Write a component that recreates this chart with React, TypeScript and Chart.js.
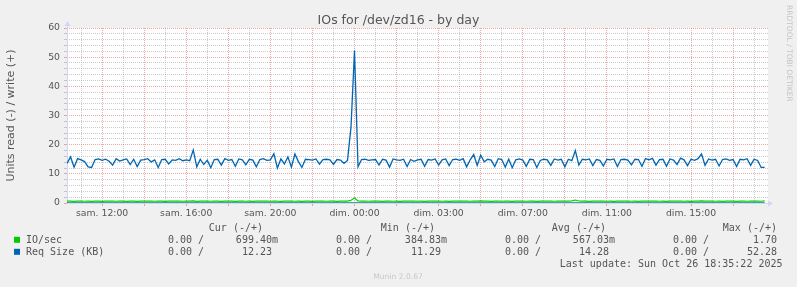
import React, { useEffect, useRef } from 'react';
import { Chart, registerables } from 'chart.js';

Chart.register(...registerables);

// Hours are counted in real elapsed time from "sam. 10:00" (DST ends on the Sunday at 03:00).
const FIRST_SAMPLE_H = 20 / 60; // first sample at sam. 10:20
const STEP_H = 10 / 60; // 10 minute samples
const X_MIN = 0.33;
const X_MAX = 33.66;

const gridHours = [1, 2, 3, 4, 5, 6, 7, 8, 9, 10, 11, 12, 13, 14, 15, 16, 17, 18, 19, 20, 21, 22, 23, 24, 25, 26, 27, 28, 29, 30, 31, 32, 33];
const tickHours = [2, 6, 10, 14, 18, 22, 26, 30];
const tickLabels = ['sam. 12:00', 'sam. 16:00', 'sam. 20:00', 'dim. 00:00', 'dim. 03:00', 'dim. 07:00', 'dim. 11:00', 'dim. 15:00'];
const yGridValues = [0, 2, 4, 6, 8, 10, 12, 14, 16, 18, 20, 22, 24, 26, 28, 30, 32, 34, 36, 38, 40, 42, 44, 46, 48, 50, 52, 54, 56, 58, 60];

// Req Size (KB), write (+)
const reqSizeWrite = [
  13.6, 15.8, 12.3, 15.2,
  14.8, 14.2, 12.4, 12.2, 14.9, 15.1,
  14.6, 15.0, 14.3, 13.0, 15.2, 14.4,
  14.8, 15.1, 13.2, 15.0, 12.5, 14.7,
  14.9, 15.2, 14.1, 14.8, 12.2, 14.9,
  15.0, 13.4, 14.8, 14.6, 15.2, 14.5,
  14.8, 14.5, 18.2, 12.4, 15.0, 13.2,
  14.7, 12.1, 14.9, 15.0, 13.0, 15.2,
  14.6, 14.9, 12.6, 15.1, 14.8, 13.1,
  15.0, 14.7, 12.4, 14.9, 15.2, 14.6,
  14.8, 16.9, 12.0, 15.1, 13.4, 15.8,
  12.3, 16.8, 14.2, 12.2, 15.0, 14.9,
  14.7, 15.1, 13.3, 14.9, 15.0, 14.8,
  13.2, 14.9, 14.7, 13.6, 14.6, 26.0,
  52.28, 12.4, 14.9, 15.0, 14.6, 14.8,
  14.9, 13.0, 15.0, 14.7, 12.3, 15.1,
  14.8, 14.6, 15.0, 12.5, 14.9, 14.3,
  14.8, 15.0, 12.6, 14.9, 14.7, 15.1,
  13.0, 14.8, 15.1, 12.8, 14.9, 15.0,
  14.6, 15.2, 12.4, 14.8, 16.6, 12.9,
  16.4, 14.1, 15.0, 14.7, 12.5, 15.2,
  14.9, 12.3, 15.0, 12.1, 14.8, 15.1,
  14.7, 12.6, 15.0, 14.9, 12.2, 14.6,
  15.0, 14.8, 12.9, 15.1, 14.7, 15.0,
  12.4, 15.0, 14.5, 18.0, 13.0, 15.0,
  14.8, 15.1, 12.8, 14.9, 14.6, 12.7,
  15.0, 14.8, 15.1, 12.5, 14.9, 15.0,
  14.7, 13.1, 15.0, 14.9, 12.6, 15.2,
  14.8, 15.3, 13.0, 14.9, 15.0, 12.6,
  15.1, 14.7, 13.2, 15.4, 14.8, 12.8,
  15.0, 14.6, 15.2, 16.8, 12.9, 15.1,
  14.7, 15.0, 12.7, 14.9, 15.1, 14.6,
  14.9, 12.5, 15.0, 14.8, 15.2, 12.9,
  15.0, 14.6, 12.2, 12.23,
];

// IO/sec, write (+)
const ioWrite = [
  0.62, 0.66, 0.58, 0.64,
  0.63, 0.60, 0.66, 0.59, 0.64, 0.62,
  0.58, 0.65, 0.61, 0.67, 0.60, 0.63,
  0.66, 0.59, 0.62, 0.64, 0.57, 0.65,
  0.61, 0.63, 0.68, 0.60, 0.62, 0.66,
  0.59, 0.64, 0.61, 0.63, 0.67, 0.60,
  0.62, 0.65, 0.72, 0.58, 0.63, 0.61,
  0.64, 0.60, 0.62, 0.66, 0.59, 0.63,
  0.61, 0.65, 0.58, 0.62, 0.64, 0.60,
  0.63, 0.59, 0.66, 0.61, 0.62, 0.65,
  0.60, 0.68, 0.62, 0.59, 0.64, 0.61,
  0.66, 0.60, 0.63, 0.58, 0.62, 0.64,
  0.59, 0.63, 0.61, 0.65, 0.60, 0.62,
  0.64, 0.58, 0.62, 0.61, 0.63, 0.95,
  1.70, 0.71, 0.62, 0.64, 0.60, 0.63,
  0.61, 0.65, 0.59, 0.63, 0.66, 0.60,
  0.62, 0.58, 0.64, 0.61, 0.63, 0.65,
  0.60, 0.63, 0.59, 0.66, 0.62, 0.61,
  0.64, 0.60, 0.62, 0.58, 0.65, 0.63,
  0.61, 0.63, 0.66, 0.60, 0.68, 0.62,
  0.70, 0.61, 0.63, 0.59, 0.64, 0.62,
  0.60, 0.65, 0.62, 0.58, 0.63, 0.61,
  0.64, 0.60, 0.62, 0.65, 0.59, 0.63,
  0.61, 0.63, 0.66, 0.60, 0.62, 0.64,
  0.62, 0.66, 0.75, 1.02, 0.68, 0.61,
  0.63, 0.59, 0.64, 0.61, 0.62, 0.66,
  0.60, 0.63, 0.58, 0.65, 0.62, 0.61,
  0.64, 0.60, 0.63, 0.59, 0.66, 0.62,
  0.61, 0.65, 0.62, 0.60, 0.63, 0.58,
  0.64, 0.61, 0.63, 0.66, 0.60, 0.62,
  0.59, 0.63, 0.65, 0.70, 0.61, 0.62,
  0.64, 0.60, 0.62, 0.58, 0.63, 0.65,
  0.61, 0.59, 0.64, 0.62, 0.60, 0.66,
  0.62, 0.63, 0.60, 0.6994,
];

// reads (-) were zero over the whole period
const readValues = reqSizeWrite.map(() => 0);

const legendHeaders = ['Cur (-/+)', 'Min (-/+)', 'Avg (-/+)', 'Max (-/+)'];
const seriesNames = ['IO/sec', 'Req Size (KB)'];
const legendIO = ['0.00 /', '699.40m', '0.00 /', '384.83m', '0.00 /', '567.03m', '0.00 /', '1.70'];
const legendReq = ['0.00 /', '12.23 ', '0.00 /', '11.29 ', '0.00 /', '14.28 ', '0.00 /', '52.28'];
const lastUpdate = 'Last update: Sun Oct 26 18:35:22 2025';

const GREEN = '#00cc00';
const BLUE = '#0066b3';
const AXIS = '#cfd6f8';
const MAJOR = 'rgba(224,80,80,0.5)';
const MINOR = 'rgba(143,143,143,0.45)';
const FONT_COLOR = '#555555';
const SANS = '"DejaVu Sans"';
const MONO = '"DejaVu Sans Mono"';

const toPoints = (vals: number[]) => vals.map((y, i) => ({ x: FIRST_SAMPLE_H + i * STEP_H, y }));

const muninPlugin = {
  id: 'munin',
  beforeDraw(chart: any) {
    const { ctx, chartArea: a } = chart;
    ctx.save();
    ctx.fillStyle = '#f0f0f0';
    ctx.fillRect(0, 0, chart.width, chart.height);
    ctx.fillStyle = '#ffffff';
    ctx.fillRect(a.left, a.top, a.right - a.left, a.bottom - a.top);
    ctx.restore();
  },
  beforeDatasetsDraw(chart: any) {
    const { ctx, chartArea: a } = chart;
    ctx.save();
    ctx.strokeStyle = AXIS;
    ctx.lineWidth = 1;
    ctx.beginPath();
    ctx.moveTo(a.left + 0.5, a.bottom);
    ctx.lineTo(a.left + 0.5, a.top - 2);
    ctx.moveTo(a.left, a.bottom + 0.5);
    ctx.lineTo(a.right + 1, a.bottom + 0.5);
    ctx.stroke();
    ctx.fillStyle = AXIS;
    ctx.beginPath();
    ctx.moveTo(a.left + 0.5, a.top - 7);
    ctx.lineTo(a.left - 2.5, a.top - 2);
    ctx.lineTo(a.left + 3.5, a.top - 2);
    ctx.closePath();
    ctx.fill();
    ctx.beginPath();
    ctx.moveTo(a.right + 5, a.bottom + 0.5);
    ctx.lineTo(a.right, a.bottom - 2.5);
    ctx.lineTo(a.right, a.bottom + 3.5);
    ctx.closePath();
    ctx.fill();
    ctx.restore();
  },
  afterDraw(chart: any) {
    const { ctx, chartArea: a } = chart;
    ctx.save();
    // title
    ctx.fillStyle = FONT_COLOR;
    ctx.font = `12.5px ${SANS}`;
    ctx.textAlign = 'center';
    ctx.textBaseline = 'alphabetic';
    ctx.fillText('IOs for /dev/zd16 - by day', 398.5, 23.5);
    // y axis title
    ctx.save();
    ctx.translate(10.8, (a.top + a.bottom) / 2);
    ctx.rotate(-Math.PI / 2);
    ctx.font = `11px ${SANS}`;
    ctx.textBaseline = 'middle';
    ctx.fillText('Units read (-) / write (+)', 0, 0);
    ctx.restore();
    // watermark
    ctx.save();
    ctx.translate(788.5, 5);
    ctx.rotate(Math.PI / 2);
    ctx.font = `7.5px ${SANS}`;
    ctx.fillStyle = '#c4c4c4';
    ctx.textAlign = 'left';
    ctx.textBaseline = 'middle';
    ctx.fillText('RRDTOOL / TOBI OETIKER', 0, 0);
    ctx.restore();
    // legend
    ctx.font = `10px ${MONO}`;
    ctx.fillStyle = FONT_COLOR;
    ctx.textAlign = 'right';
    const headerRight = [263, 435, 606, 777];
    legendHeaders.forEach((h, i) => ctx.fillText(h, headerRight[i], 231));
    const cellRight = [204, 278, 372, 447, 541, 615, 709, 777];
    const rows = [legendIO, legendReq];
    const colors = [GREEN, BLUE];
    rows.forEach((row, r) => {
      const y = 243.3 + r * 12;
      ctx.fillStyle = colors[r];
      ctx.fillRect(14, y - 6.5, 6, 6);
      ctx.fillStyle = FONT_COLOR;
      ctx.textAlign = 'left';
      ctx.fillText(seriesNames[r], 26, y);
      ctx.textAlign = 'right';
      row.forEach((c, i) => ctx.fillText(c, cellRight[i], y));
    });
    ctx.fillText(lastUpdate, 782.5, 266.7);
    // footer
    ctx.font = `7.6px ${SANS}`;
    ctx.fillStyle = '#c8c8c8';
    ctx.textAlign = 'center';
    ctx.fillText('Munin 2.0.67', 398, 279);
    ctx.restore();
  },
};

export default function App() {
  const ref = useRef<HTMLCanvasElement>(null);
  useEffect(() => {
    document.body.style.margin = '0';
    document.body.style.background = '#f0f0f0';
    const canvas = ref.current!;
    const chart = new Chart(canvas, {
      type: 'line',
      data: {
        datasets: [
          { label: 'Req Size (KB)', data: toPoints(reqSizeWrite), borderColor: BLUE, borderWidth: 1.3, pointRadius: 0, tension: 0, order: 0 },
          { label: 'IO/sec', data: toPoints(ioWrite), borderColor: GREEN, borderWidth: 1.2, pointRadius: 0, tension: 0, order: 1 },
          { label: 'Req Size read', data: toPoints(readValues), borderColor: BLUE, borderWidth: 1, pointRadius: 0, tension: 0, order: 2 },
          { label: 'IO read', data: toPoints(readValues), borderColor: GREEN, borderWidth: 1, pointRadius: 0, tension: 0, order: 3 },
        ],
      },
      options: {
        animation: false,
        responsive: false,
        events: [],
        layout: { padding: { left: 0, top: 28, right: 29, bottom: 0 } },
        plugins: { legend: { display: false }, tooltip: { enabled: false }, title: { display: false } },
        scales: {
          x: {
            type: 'linear',
            min: X_MIN,
            max: X_MAX,
            afterBuildTicks: (scale: any) => { scale.ticks = gridHours.map((v) => ({ value: v })); },
            afterFit: (scale: any) => { scale.height = 84; },
            border: { display: false, dash: [1, 1] },
            grid: {
              color: (c: any) => (c.tick && c.tick.value % 2 === 0 ? MAJOR : MINOR),
              tickColor: (c: any) => (c.tick && c.tick.value % 2 === 0 ? MAJOR : 'rgba(0,0,0,0)'),
              tickLength: 3,
              lineWidth: 1,
            },
            ticks: {
              autoSkip: false,
              maxRotation: 0,
              minRotation: 0,
              padding: 2,
              color: FONT_COLOR,
              font: { family: 'DejaVu Sans', size: 9.3 },
              callback: (v: any) => {
                const i = tickHours.indexOf(Number(v));
                return i >= 0 ? tickLabels[i] : '';
              },
            },
          },
          y: {
            type: 'linear',
            min: 0,
            max: 60,
            afterBuildTicks: (scale: any) => { scale.ticks = yGridValues.map((v) => ({ value: v })); },
            afterFit: (scale: any) => { scale.width = 67; },
            border: { display: false, dash: [1, 1] },
            grid: {
              color: (c: any) => (c.tick && c.tick.value % 10 === 0 ? MAJOR : MINOR),
              tickColor: (c: any) => (c.tick && c.tick.value % 10 === 0 ? MAJOR : MINOR),
              tickLength: 3,
              lineWidth: 1,
            },
            ticks: {
              autoSkip: false,
              padding: 4,
              color: FONT_COLOR,
              font: { family: 'DejaVu Sans', size: 9.3 },
              callback: (v: any) => (Number(v) % 10 === 0 ? String(v) : ''),
            },
          },
        },
      },
      plugins: [muninPlugin],
    } as any);
    return () => chart.destroy();
  }, []);
  return <canvas ref={ref} width={797} height={287} style={{ display: 'block', width: 797, height: 287 }} />;
}
